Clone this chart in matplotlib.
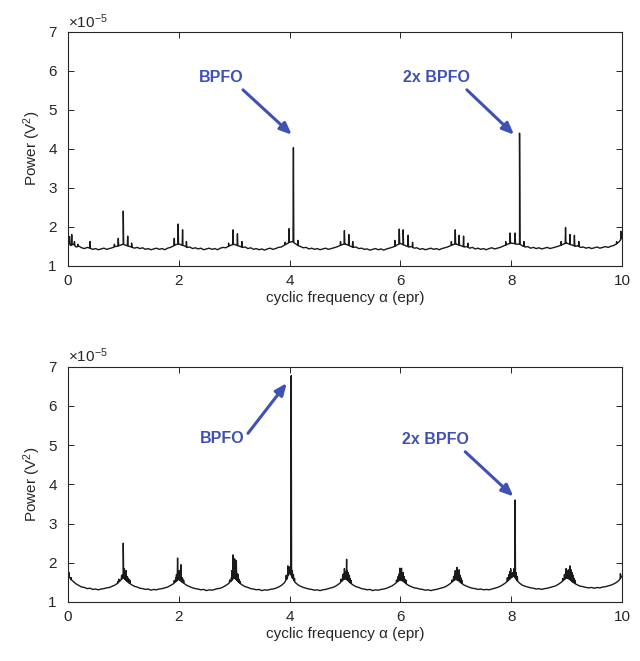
import numpy as np
import matplotlib
matplotlib.use("Agg")
import matplotlib.pyplot as plt

plt.rcParams['font.family'] = ['Liberation Sans', 'DejaVu Sans']
plt.rcParams['mathtext.fontset'] = 'custom'
plt.rcParams['mathtext.rm'] = 'Liberation Sans'
plt.rcParams['mathtext.it'] = 'Liberation Sans:italic'

# ---------------- data (power in units of 1e-5 V^2) ----------------
alpha_grid = [round(0.05 * i, 2) for i in range(201)]

base_top = [1.62, 1.52, 1.55, 1.48, 1.50, 1.46, 1.44, 1.47, 1.45, 1.42,
            1.44, 1.41, 1.43, 1.45, 1.42, 1.44, 1.46, 1.49, 1.50, 1.53,
            1.55, 1.52, 1.50, 1.48, 1.45, 1.47, 1.44, 1.46, 1.42, 1.44,
            1.41, 1.43, 1.45, 1.42, 1.44, 1.41, 1.45, 1.47, 1.50, 1.54,
            1.56, 1.53, 1.51, 1.47, 1.48, 1.44, 1.46, 1.43, 1.45, 1.41,
            1.43, 1.45, 1.42, 1.44, 1.41, 1.45, 1.47, 1.46, 1.50, 1.53,
            1.55, 1.52, 1.50, 1.47, 1.48, 1.44, 1.46, 1.42, 1.44, 1.41,
            1.43, 1.40, 1.43, 1.45, 1.42, 1.44, 1.47, 1.48, 1.52, 1.56,
            1.60, 1.62, 1.57, 1.52, 1.49, 1.46, 1.47, 1.43, 1.45, 1.42,
            1.44, 1.41, 1.43, 1.45, 1.42, 1.44, 1.46, 1.48, 1.51, 1.54,
            1.56, 1.53, 1.50, 1.47, 1.48, 1.44, 1.45, 1.42, 1.43, 1.40,
            1.42, 1.44, 1.41, 1.43, 1.40, 1.43, 1.45, 1.47, 1.50, 1.54,
            1.57, 1.54, 1.51, 1.48, 1.49, 1.45, 1.46, 1.42, 1.44, 1.41,
            1.43, 1.45, 1.42, 1.44, 1.41, 1.44, 1.46, 1.48, 1.51, 1.54,
            1.56, 1.53, 1.51, 1.48, 1.49, 1.45, 1.47, 1.43, 1.45, 1.42,
            1.44, 1.41, 1.44, 1.46, 1.43, 1.45, 1.47, 1.50, 1.53, 1.56,
            1.58, 1.57, 1.55, 1.56, 1.51, 1.48, 1.49, 1.45, 1.47, 1.44,
            1.46, 1.43, 1.45, 1.47, 1.44, 1.46, 1.48, 1.50, 1.53, 1.56,
            1.58, 1.55, 1.53, 1.50, 1.51, 1.47, 1.48, 1.45, 1.47, 1.44,
            1.46, 1.48, 1.45, 1.47, 1.49, 1.47, 1.50, 1.52, 1.56, 1.62,
            1.72]

spike_alpha_top = [0.03, 0.07, 0.12, 0.18, 0.40,
                   0.84, 0.91, 1.00, 1.08, 1.15,
                   1.92, 1.99, 2.07, 2.14,
                   2.90, 2.98, 3.06, 3.14,
                   3.92, 3.99, 4.07, 4.15,
                   4.92, 4.99, 5.07, 5.14,
                   5.90, 5.98, 6.05, 6.14, 6.22,
                   6.92, 6.99, 7.06, 7.14, 7.22,
                   7.90, 7.98, 8.07, 8.15, 8.23,
                   8.90, 8.98, 9.06, 9.14, 9.22,
                   9.90, 9.98]
spike_power_top = [1.75, 1.80, 1.62, 1.55, 1.62,
                   1.55, 1.70, 2.40, 1.76, 1.58,
                   1.70, 2.07, 1.92, 1.62,
                   1.58, 1.92, 1.82, 1.62,
                   1.60, 1.95, 4.03, 1.65,
                   1.62, 1.90, 1.80, 1.62,
                   1.65, 1.94, 1.92, 1.78, 1.60,
                   1.62, 1.92, 1.78, 1.76, 1.58,
                   1.62, 1.84, 1.84, 4.40, 1.62,
                   1.62, 1.98, 1.80, 1.78, 1.62,
                   1.62, 1.88]

base_bot = [1.72, 1.58, 1.52, 1.46, 1.42, 1.38, 1.37, 1.34, 1.35, 1.32,
            1.33, 1.31, 1.33, 1.34, 1.36, 1.37, 1.40, 1.43, 1.48, 1.55,
            1.62, 1.55, 1.49, 1.44, 1.40, 1.38, 1.35, 1.34, 1.32, 1.33,
            1.30, 1.32, 1.31, 1.33, 1.34, 1.36, 1.38, 1.42, 1.46, 1.52,
            1.58, 1.52, 1.47, 1.42, 1.39, 1.36, 1.34, 1.33, 1.31, 1.32,
            1.29, 1.31, 1.30, 1.32, 1.34, 1.35, 1.38, 1.42, 1.47, 1.54,
            1.62, 1.55, 1.48, 1.43, 1.39, 1.37, 1.34, 1.33, 1.31, 1.32,
            1.29, 1.31, 1.30, 1.32, 1.33, 1.35, 1.38, 1.42, 1.48, 1.58,
            1.75, 1.62, 1.50, 1.44, 1.40, 1.37, 1.35, 1.33, 1.32, 1.30,
            1.31, 1.29, 1.31, 1.32, 1.34, 1.36, 1.38, 1.42, 1.47, 1.54,
            1.60, 1.55, 1.48, 1.43, 1.39, 1.37, 1.34, 1.33, 1.31, 1.32,
            1.29, 1.31, 1.30, 1.32, 1.33, 1.35, 1.38, 1.41, 1.46, 1.52,
            1.57, 1.53, 1.47, 1.42, 1.39, 1.36, 1.35, 1.33, 1.32, 1.30,
            1.31, 1.29, 1.31, 1.32, 1.34, 1.36, 1.38, 1.42, 1.47, 1.53,
            1.58, 1.54, 1.48, 1.43, 1.40, 1.37, 1.35, 1.34, 1.32, 1.33,
            1.31, 1.32, 1.31, 1.33, 1.35, 1.37, 1.40, 1.44, 1.49, 1.55,
            1.62, 1.66, 1.55, 1.48, 1.43, 1.40, 1.38, 1.36, 1.35, 1.33,
            1.34, 1.32, 1.34, 1.35, 1.37, 1.39, 1.41, 1.45, 1.50, 1.56,
            1.62, 1.58, 1.52, 1.47, 1.43, 1.40, 1.39, 1.37, 1.36, 1.37,
            1.35, 1.37, 1.36, 1.38, 1.39, 1.41, 1.43, 1.46, 1.50, 1.56,
            1.66]

spike_alpha_bot = [0.02, 0.06,
                   0.90, 0.92, 0.94, 0.97, 0.99, 1.00, 1.02, 1.03, 1.05, 1.07, 1.08, 1.10, 1.12,
                   1.92, 1.95, 1.96, 1.98, 2.00, 2.01, 2.02, 2.04, 2.06, 2.07, 2.09,
                   2.92, 2.95, 2.96, 2.98, 3.00, 3.01, 3.02, 3.04, 3.06, 3.07, 3.09, 3.11,
                   3.94, 3.97, 3.99, 4.00, 4.03, 4.05, 4.07, 4.09,
                   4.93, 4.96, 4.98, 4.99, 5.01, 5.03, 5.04, 5.06, 5.08, 5.09, 5.11,
                   5.93, 5.96, 5.98, 5.99, 6.00, 6.02, 6.04, 6.05, 6.07, 6.08, 6.10,
                   6.93, 6.96, 6.98, 6.99, 7.01, 7.02, 7.04, 7.06, 7.08, 7.09, 7.11,
                   7.93, 7.96, 7.98, 7.99, 8.01, 8.03, 8.05, 8.07, 8.09, 8.11,
                   8.93, 8.96, 8.98, 8.99, 9.01, 9.03, 9.05, 9.06, 9.08, 9.10, 9.12, 9.13, 9.15,
                   9.97]
spike_power_bot = [1.75, 1.62,
                   1.52, 1.58, 1.55, 1.68, 1.70, 2.50, 1.85, 1.72, 1.80, 1.65, 1.62, 1.58, 1.55,
                   1.55, 1.62, 1.70, 2.12, 1.75, 1.80, 1.68, 1.95, 1.62, 1.60, 1.55,
                   1.56, 1.62, 1.80, 2.20, 1.75, 2.10, 1.78, 2.05, 1.72, 1.70, 1.58, 1.52,
                   1.68, 1.92, 1.90, 1.85, 6.77, 1.80, 1.70, 1.60,
                   1.58, 1.70, 1.72, 1.85, 1.76, 2.09, 1.80, 1.75, 1.68, 1.60, 1.55,
                   1.56, 1.65, 1.72, 1.86, 1.75, 1.86, 1.72, 1.75, 1.65, 1.58, 1.55,
                   1.56, 1.65, 1.72, 1.80, 1.74, 1.88, 1.75, 1.82, 1.68, 1.62, 1.55,
                   1.62, 1.70, 1.78, 1.85, 1.72, 1.75, 1.85, 3.60, 1.75, 1.65,
                   1.60, 1.70, 1.72, 1.85, 1.78, 1.82, 1.80, 1.92, 1.82, 1.75, 1.68, 1.60, 1.55,
                   1.72]

x_ticks = [0, 2, 4, 6, 8, 10]
y_ticks = [1, 2, 3, 4, 5, 6, 7]

# annotation (text position, arrow tail, arrow head) in data coords
ann_top = [("BPFO", (2.76, 5.82), (3.16, 5.51), (4.04, 4.36)),
           ("2x BPFO", (6.65, 5.82), (7.20, 5.51), (8.05, 4.36))]
ann_bot = [("BPFO", (2.79, 5.18), (3.25, 5.30), (3.95, 6.58)),
           ("2x BPFO", (6.64, 5.15), (7.17, 4.83), (8.04, 3.69))]

BLUE = '#3f52b4'
INK = '#262626'


def build_line(grid, base, sa, sp, w=0.007):
    grid = np.asarray(grid, float)
    base = np.asarray(base, float)
    xs = list(grid)
    ys = list(base)
    for a, p in zip(sa, sp):
        for dx in (-w, w):
            xx = min(max(a + dx, 0.0), 10.0)
            xs.append(xx)
            ys.append(np.interp(xx, grid, base))
        xs.append(a)
        ys.append(p)
    order = np.argsort(xs, kind='stable')
    return np.asarray(xs)[order], np.asarray(ys)[order]


fig = plt.figure(figsize=(6.4, 6.61), dpi=100)
ax1 = fig.add_axes([0.106, 0.598, 0.866, 0.354])
ax2 = fig.add_axes([0.106, 0.0893, 0.866, 0.356])

for ax, base, sa, sp, anns in [(ax1, base_top, spike_alpha_top, spike_power_top, ann_top),
                               (ax2, base_bot, spike_alpha_bot, spike_power_bot, ann_bot)]:
    x, y = build_line(alpha_grid, base, sa, sp)
    ax.plot(x, y, color='#1a1a1a', lw=1.0)
    ax.set_xlim(0, 10)
    ax.set_ylim(1, 7)
    ax.set_xticks(x_ticks)
    ax.set_yticks(y_ticks)
    ax.tick_params(direction='in', top=True, right=True, length=4, width=0.7,
                   labelsize=11, colors=INK)
    ax.tick_params(axis='x', pad=6)
    ax.tick_params(axis='y', pad=8)
    for s in ax.spines.values():
        s.set_linewidth(0.8)
        s.set_color(INK)
    ax.set_xlabel('cyclic frequency α (epr)', fontsize=11, color=INK, labelpad=2)
    ax.set_ylabel(r'Power (V$^2$)', fontsize=11, color=INK, labelpad=4)
    ax.text(0.0, 1.005, r'$\times$10$^{-5}$', transform=ax.transAxes, fontsize=11,
            color=INK, ha='left', va='bottom')
    for label, tpos, tail, head in anns:
        ax.text(tpos[0], tpos[1], label, color=BLUE, fontsize=11.5, fontweight='bold',
                ha='center', va='center')
        ax.annotate('', xy=head, xytext=tail,
                    arrowprops=dict(arrowstyle='-|>,head_length=0.7,head_width=0.3',
                                    color=BLUE, lw=2.2, shrinkA=0, shrinkB=0))

fig.savefig('out.png', dpi=100)
